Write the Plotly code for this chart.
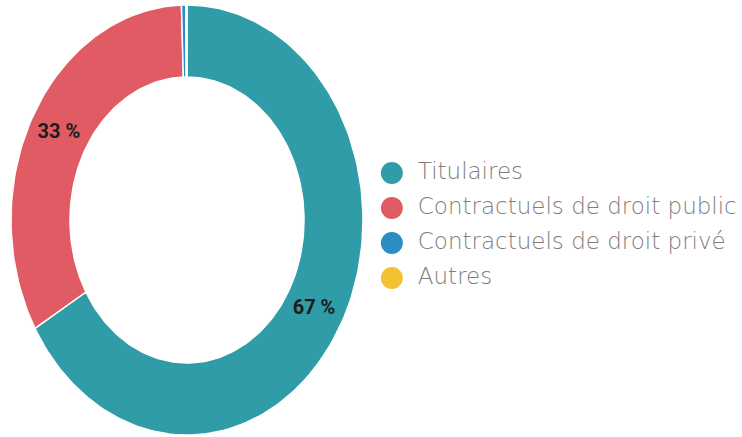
import math
import plotly.graph_objects as go

# Staff breakdown by status (percent of headcount)
categories = ["Titulaires", "Contractuels de droit public", "Contractuels de droit privé", "Autres"]
values = [66.6, 32.9, 0.4, 0.1]
colors = ["#2f9ca8", "#e05b63", "#2a8dc4", "#f3c233"]

HOLE = 0.665      # inner radius relative to outer radius
N_PTS = 240       # points per full turn for the arcs
MIN_LABEL = 5     # slices below this share get no label

fig = go.Figure()

total = sum(values)
start = 0.0
label_x, label_y, label_txt = [], [], []
for name, val, col in zip(categories, values, colors):
    frac = val / total
    a0 = start * 2 * math.pi
    a1 = (start + frac) * 2 * math.pi
    n = max(3, int(N_PTS * frac) + 2)
    angs = [a0 + (a1 - a0) * i / (n - 1) for i in range(n)]
    xs = [math.sin(a) for a in angs] + [HOLE * math.sin(a) for a in reversed(angs)]
    ys = [math.cos(a) for a in angs] + [HOLE * math.cos(a) for a in reversed(angs)]
    xs.append(xs[0])
    ys.append(ys[0])
    fig.add_trace(go.Scatter(
        x=xs, y=ys, mode="lines", fill="toself", fillcolor=col,
        line=dict(color="white", width=1.5), name=name,
        hoverinfo="name", showlegend=False, xaxis="x", yaxis="y",
    ))
    if val >= MIN_LABEL:
        mid = (a0 + a1) / 2
        rm = (1 + HOLE) / 2
        label_x.append(rm * math.sin(mid))
        label_y.append(rm * math.cos(mid))
        label_txt.append(f"{val:.0f} %")
    start += frac

# Percentage labels inside the ring
fig.add_trace(go.Scatter(
    x=label_x, y=label_y, mode="text", text=label_txt,
    textfont=dict(family="Liberation Sans Narrow, Arial Narrow, Roboto, sans-serif",
                  size=20, color="#1c1c1c", weight="bold"),
    hoverinfo="skip", showlegend=False, xaxis="x", yaxis="y",
))

# Legend: coloured dots with category names
idx = list(range(len(categories)))
fig.add_trace(go.Scatter(
    x=[0] * len(idx), y=idx, mode="markers",
    marker=dict(color=colors, size=22, line=dict(width=0)),
    hoverinfo="skip", showlegend=False, xaxis="x2", yaxis="y2",
))
fig.add_trace(go.Scatter(
    x=[0.072] * len(idx), y=idx, mode="text", text=categories,
    textposition="middle right",
    textfont=dict(family="DejaVu Sans, sans-serif", size=23, color="#7e7e7e", weight=300),
    hoverinfo="skip", showlegend=False, xaxis="x2", yaxis="y2",
))

hidden = dict(visible=False, showgrid=False, zeroline=False, fixedrange=True)
fig.update_layout(
    width=742, height=437,
    margin=dict(l=0, r=0, t=0, b=0),
    paper_bgcolor="white", plot_bgcolor="white",
    showlegend=False,
    xaxis=dict(domain=[11 / 742, 363 / 742], range=[-1, 1], **hidden),
    yaxis=dict(domain=[2 / 437, 432 / 437], range=[-1, 1], **hidden),
    xaxis2=dict(domain=[381 / 742, 1], range=[-0.03, 0.97], **hidden),
    yaxis2=dict(domain=[0, 1], range=[7.54, -4.94], anchor="x2", **hidden),
)

fig.write_html("out.html")
